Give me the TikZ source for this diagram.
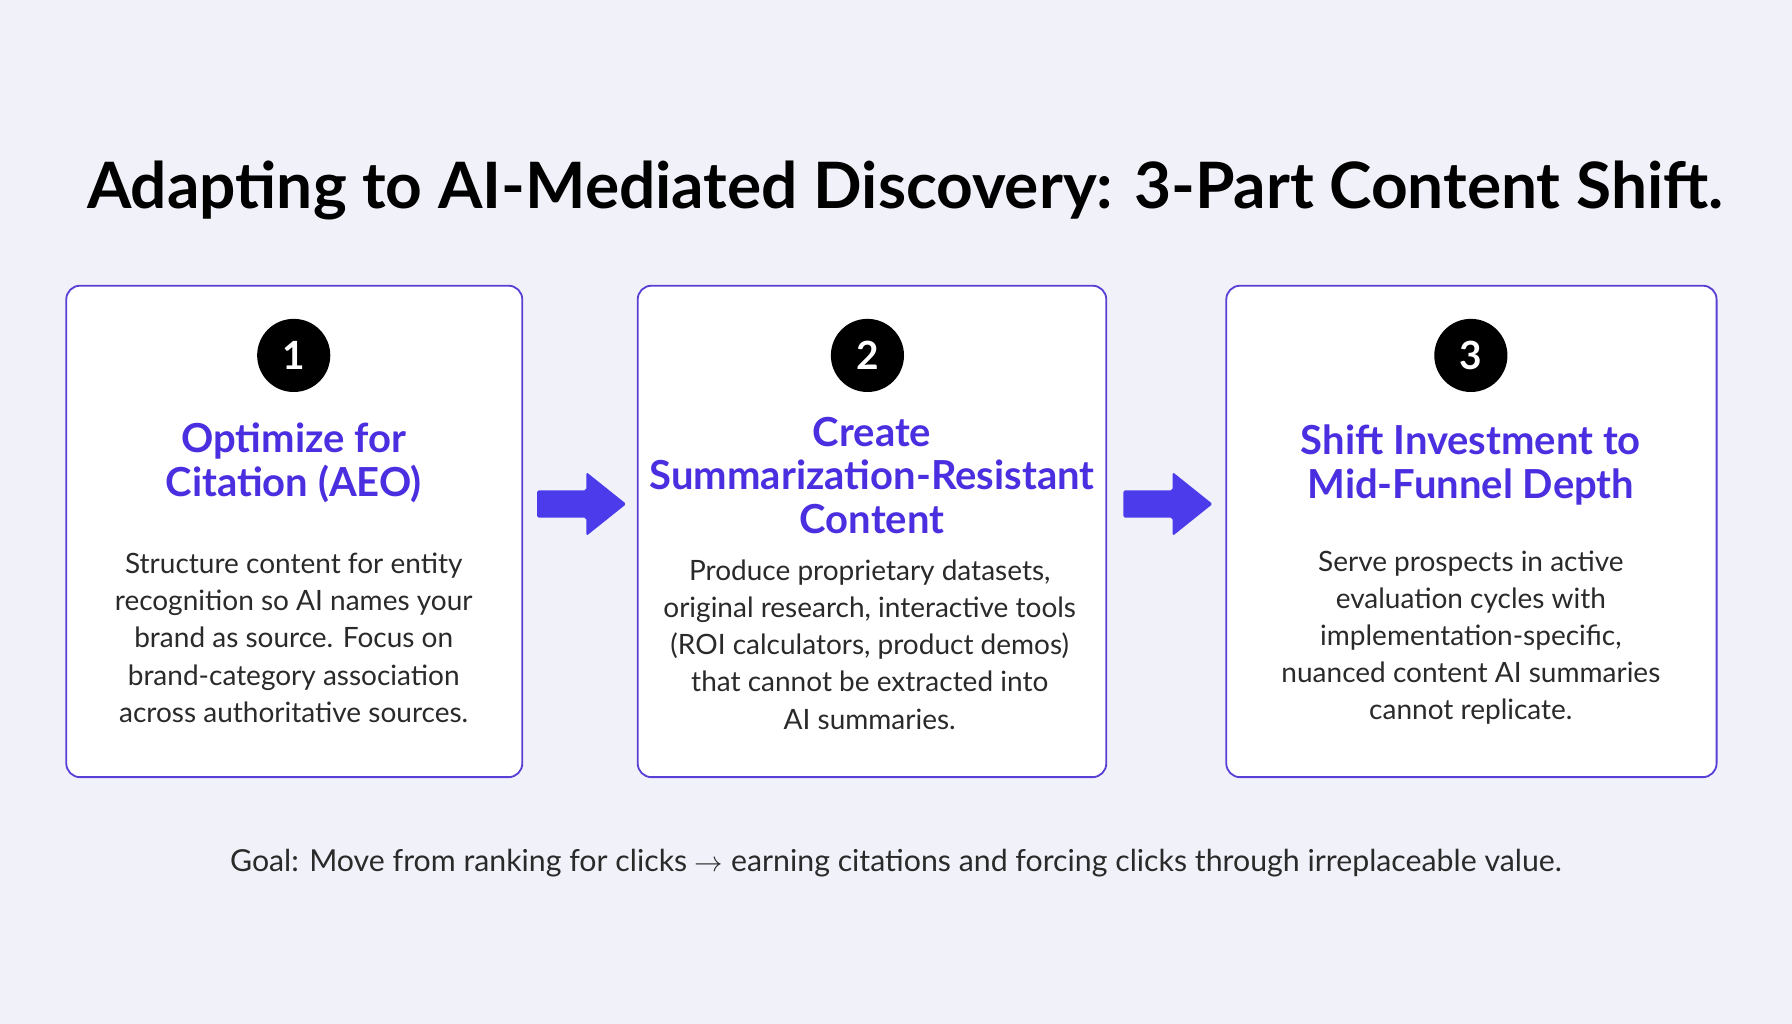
\documentclass[tikz,border=0pt]{standalone}
\usepackage{fontspec}
\setmainfont{Lato}
\definecolor{bg}{HTML}{F1F2F9}
\definecolor{edge}{HTML}{5A3FD6}
\definecolor{head}{HTML}{4A2FE0}
\definecolor{arr}{HTML}{4B3BEB}
\definecolor{txt}{HTML}{2A2A2A}
\begin{document}
\begin{tikzpicture}[x=1pt,y=-1pt,
 card/.style={draw=edge,line width=1.6pt,rounded corners=12pt,fill=white},
 num/.style={circle,fill=black,minimum size=64pt,inner sep=0pt,text=white,font=\fontsize{34}{36}\selectfont\bfseries},
 hd/.style={text=head,align=center,font=\fontsize{35}{38}\selectfont\bfseries},
 bd/.style={text=txt,align=center,font=\fontsize{24.5}{32.5}\selectfont},
 ar/.style={fill=arr}]
\fill[bg] (0,0) rectangle (1568,896);
\useasboundingbox (0,0) rectangle (1568,896);
\node[font=\fontsize{56}{60}\selectfont\bfseries,text=black] (title) at (792,167) {Adapting to AI-Mediated Discovery: 3-Part Content Shift.};
\draw[card] (58,250) rectangle (457,680);
\draw[card] (558,250) rectangle (968,680);
\draw[card] (1073,250) rectangle (1502,680);
\node[num] (n1) at (257,311) {1};
\node[num] (n2) at (759,311) {2};
\node[num] (n3) at (1287,311) {3};
\node[hd] (h1) at (257,405) {Optimize for\\Citation (AEO)};
\node[hd] (h2) at (763,416) {Create\\Summarization-Resistant\\Content};
\node[hd] (h3) at (1287,407) {Shift Investment to\\Mid-Funnel Depth};
\node[bd] (b1) at (257,558) {Structure content for entity\\recognition so AI names your\\brand as source. Focus on\\brand-category association\\across authoritative sources.};
\node[bd] (b2) at (761,564) {Produce proprietary datasets,\\original research, interactive tools\\(ROI calculators, product demos)\\that cannot be extracted into\\AI summaries.};
\node[bd] (b3) at (1287,558) {Serve prospects in active\\evaluation cycles with\\implementation-specific,\\nuanced content AI summaries\\cannot replicate.};
\foreach \x in {470,983}{
 \fill[ar,rounded corners=1.5pt] (\x,429) -- (\x+43,429) -- (\x+43,413) -- (\x+78,441) -- (\x+43,469) -- (\x+43,453) -- (\x,453) -- cycle;}
\node[text=txt,font=\fontsize{26.5}{30}\selectfont] (goal) at (784,755) {Goal: Move from ranking for clicks $\rightarrow$ earning citations and forcing clicks through irreplaceable value.};
\end{tikzpicture}
\end{document}
